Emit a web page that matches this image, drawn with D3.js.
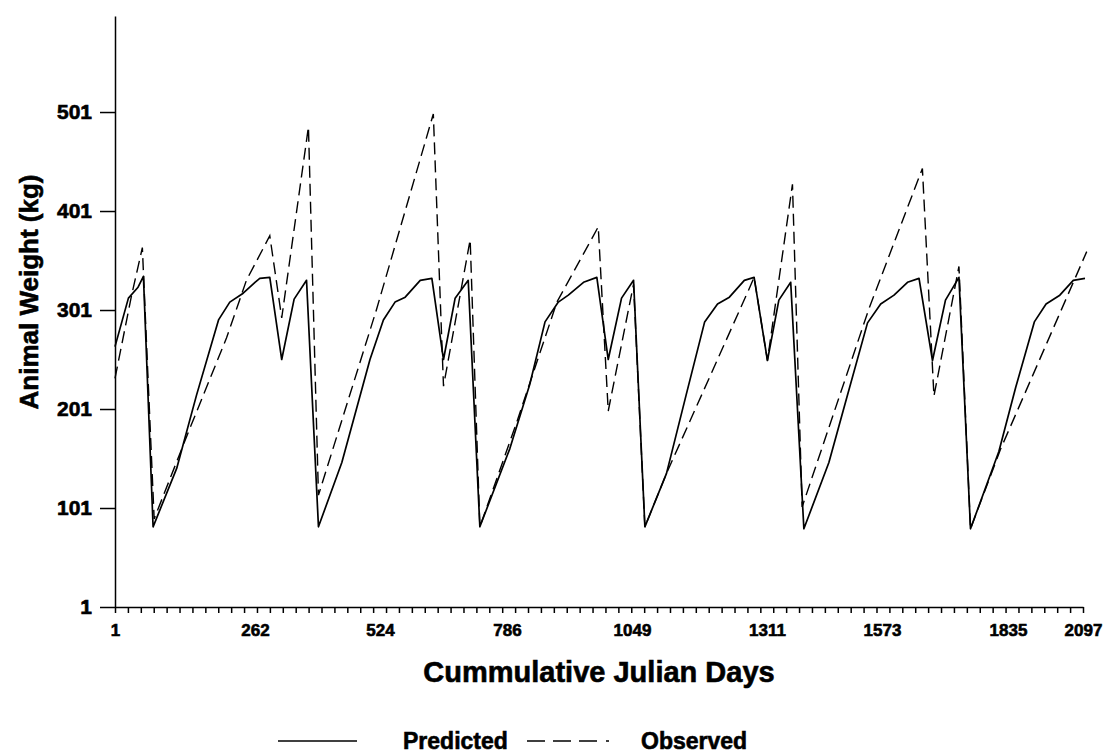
<!DOCTYPE html>
<meta charset="utf-8">
<head>
<script src="https://d3js.org/d3.v7.min.js"></script>
<style>
body { margin: 0; background: #fff; }
svg text {
    font-family: "Liberation Sans", Arial, sans-serif;
    font-weight: bold;
    fill: #000;
    stroke: #000;
    stroke-width: 0.6px;
}
</style>
</head>
<body>
<div id="my_dataviz"></div>
<script>
// x axis labels (cumulative julian days) and y axis labels (kg)
var dayTicks = [1, 262, 524, 786, 1049, 1311, 1573, 1835, 2097];
var weightTicks = [1, 101, 201, 301, 401, 501];
var minorTickCount = 76;

// Predicted weights (solid line)
var predDay = [1, 26, 44, 54, 72, 116, 153, 194, 215, 240, 262, 272, 293, 318, 344, 370, 395, 444,
  503, 531, 555, 576, 607, 631, 655, 679, 706, 730, 792, 834, 866, 894, 915, 947, 975, 999, 1027,
  1052, 1074, 1116, 1154, 1190, 1215, 1238, 1267, 1286, 1312, 1338, 1365, 1395, 1452, 1490, 1540,
  1570, 1598, 1626, 1650, 1678, 1705, 1733, 1757, 1816, 1862, 1927, 1968, 2016, 2063, 2104];
var predWeight = [264, 313, 324, 335, 82, 141, 215, 291, 309, 318, 329, 333, 334, 251, 312, 331, 82, 147,
  251, 291, 309, 314, 331, 333, 251, 313, 331, 82, 161, 226, 289, 309, 316, 329, 334, 251, 313,
  331, 82, 136, 215, 289, 307, 314, 331, 334, 250, 311, 329, 80, 147, 208, 288,
  307, 316, 329, 333, 250, 311, 334, 80, 158, 223, 289, 307, 316, 331, 333];

// Observed weights (dashed line)
var obsDay = [1, 32, 52, 74, 138, 209, 246, 293, 318, 374, 395, 517, 634, 655, 710, 730, 806, 891,
  978, 999, 1052, 1074, 1116, 1276, 1286, 1312, 1369, 1391, 1543, 1657, 1681, 1733, 1757, 1820, 2110];
var obsWeight = [232, 316, 364, 90, 178, 273, 331, 376, 293, 486, 114, 302, 499, 224, 372, 82, 187, 309,
  385, 199, 327, 82, 136, 322, 334, 250, 428, 102, 302, 444, 214, 345, 80, 161, 360];

var width = 1104, height = 755;

var svg = d3.select("#my_dataviz")
  .append("svg")
    .attr("width", width)
    .attr("height", height);

// the day axis of the original is not evenly spaced, so map each labelled day to its place
var x = d3.scaleLinear()
  .domain(dayTicks)
  .range([115, 255, 380, 507, 632, 767, 882, 1008, 1083]);

var y = d3.scaleLinear()
  .domain([1, 598])
  .range([607, 16]);

// small ticks along the bottom
var minor = d3.scaleLinear()
  .domain([0, minorTickCount - 1])
  .range([x(dayTicks[0]), x(dayTicks[dayTicks.length - 1])]);

svg.append("g")
    .attr("transform", "translate(0," + y(1) + ")")
    .call(d3.axisBottom(minor).tickValues(d3.range(minorTickCount)).tickSize(6).tickSizeOuter(0).tickFormat(""))
    .selectAll("path, line").attr("stroke", "#000").attr("stroke-width", 1.5);

// bottom labels
var xAxis = svg.append("g")
    .attr("transform", "translate(0," + y(1) + ")")
    .call(d3.axisBottom(x).tickValues(dayTicks).tickSize(0).tickPadding(17).tickFormat(d3.format("d")));
xAxis.select(".domain").remove();
xAxis.selectAll("text").attr("font-size", 17);

// left axis
var yAxis = svg.append("g")
    .attr("transform", "translate(" + x(1) + ",0)")
    .call(d3.axisLeft(y).tickValues(weightTicks).tickSize(15).tickPadding(8).tickSizeOuter(0));
yAxis.selectAll("path, line").attr("stroke", "#000").attr("stroke-width", 1.5);
yAxis.selectAll("text").attr("font-size", 21);

// lines
var predicted = predDay.map(function(d, i) { return {day: d, w: predWeight[i]}; });
var observed = obsDay.map(function(d, i) { return {day: d, w: obsWeight[i]}; });

var line = d3.line()
  .x(function(d) { return x(d.day); })
  .y(function(d) { return y(d.w); });

svg.append("path")
    .datum(observed)
    .attr("fill", "none")
    .attr("stroke", "#000")
    .attr("stroke-width", 1.4)
    .attr("stroke-dasharray", "12,6")
    .attr("d", line);

svg.append("path")
    .datum(predicted)
    .attr("fill", "none")
    .attr("stroke", "#000")
    .attr("stroke-width", 1.7)
    .attr("stroke-linejoin", "round")
    .attr("d", line);

// axis titles
svg.append("text")
    .attr("x", 599)
    .attr("y", 682)
    .attr("text-anchor", "middle")
    .attr("font-size", 29)
    .text("Cummulative Julian Days");

svg.append("text")
    .attr("transform", "translate(38,292) rotate(-90)")
    .attr("text-anchor", "middle")
    .attr("font-size", 26)
    .text("Animal Weight (kg)");

// legend
var legend = svg.append("g").attr("transform", "translate(0,741)");
legend.append("line")
    .attr("x1", 278).attr("x2", 357)
    .attr("stroke", "#000").attr("stroke-width", 1.5);
legend.append("text")
    .attr("x", 403).attr("y", 8)
    .attr("font-size", 23)
    .text("Predicted");
legend.append("line")
    .attr("x1", 527).attr("x2", 612)
    .attr("stroke", "#000").attr("stroke-width", 1.5)
    .attr("stroke-dasharray", "18,8,18,8,18,9,3,20");
legend.append("text")
    .attr("x", 641).attr("y", 8)
    .attr("font-size", 23)
    .text("Observed");
</script>
</body>
</html>
